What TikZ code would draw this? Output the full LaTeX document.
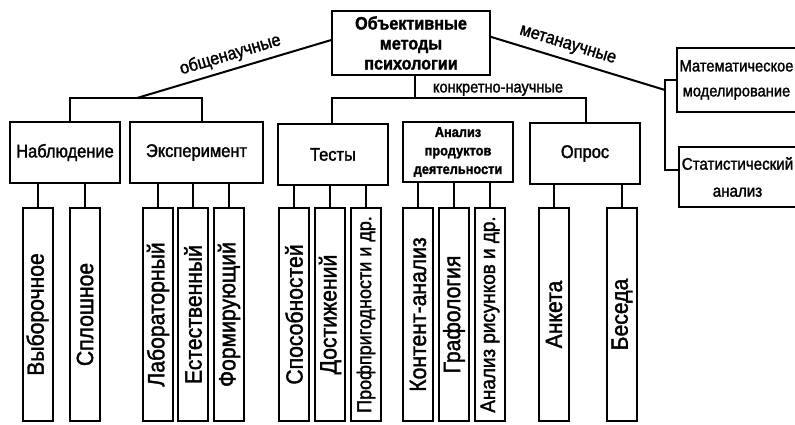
\documentclass[tikz,border=0pt]{standalone}
\usepackage{fontspec}
\setmainfont[FakeStretch=0.9,FakeBold=1.6]{Liberation Sans}
\usetikzlibrary{calc}
\begin{document}
\begin{tikzpicture}[x=1pt,y=-1pt,
  box/.style={draw, line width=2pt, inner sep=0pt, outer sep=0pt, align=center},
  topbox/.style={box, minimum width=158pt, minimum height=64pt, font=\bfseries\fontsize{18}{20}\selectfont},
  midbox/.style={box, minimum width=110pt, minimum height=61pt, font=\fontsize{18.3}{20}\selectfont},
  anbox/.style={box, minimum width=110pt, minimum height=60pt, font=\bfseries\fontsize{14.2}{18.5}\selectfont},
  sidebox/.style={box, minimum width=119pt, minimum height=64pt, font=\fontsize{16.3}{25}\selectfont},
  leaf/.style={box, minimum width=30pt, minimum height=213pt, font=\fontsize{23.5}{24}\selectfont},
  lbl/.style={inner sep=0pt, font=\fontsize{18}{18}\selectfont},
  conn/.style={line width=2pt}]
\fill[white] (0,0) rectangle (795,425);
\useasboundingbox (0,0) rectangle (795,425);

% top
\node[topbox] (top) at (411,43) {Объективные\\методы\\психологии};

% middle level
\node[midbox] (nab) at (65,152.5) {Наблюдение};
\node[midbox, minimum width=133pt] (exp) at (196.5,152.5) {Эксперимент};
\node[midbox] (tst) at (333,154.5) {Тесты};
\node[anbox] (anp) at (458,152) {Анализ\\продуктов\\деятельности};
\node[midbox] (opr) at (585,153.5) {Опрос};
\node[sidebox] (mat) at (736.5,80) {Математическое\\моделирование};
\node[sidebox, minimum width=117pt, minimum height=60pt, font=\fontsize{16.8}{27}\selectfont] (sta) at (737.5,177) {Статистический\\анализ};

% leaves
\node[leaf] (l1) at (37.5,314.5) {\rotatebox{90}{Выборочное}};
\node[leaf] (l2) at (85,314.5) {\rotatebox{90}{Сплошное}};
\node[leaf] (l3) at (158,314.5) {\rotatebox{90}{Лабораторный}};
\node[leaf] (l4) at (193,314.5) {\rotatebox{90}{Естественный}};
\node[leaf] (l5) at (229,314.5) {\rotatebox{90}{Формирующий}};
\node[leaf] (l6) at (294,314.5) {\rotatebox{90}{Способностей}};
\node[leaf] (l7) at (330,314.5) {\rotatebox{90}{Достижений}};
\node[leaf, font=\fontsize{20}{20}\selectfont] (l8) at (366,314.5) {\rotatebox{90}{Профпригодности и др.}};
\node[leaf] (l9) at (418,314.5) {\rotatebox{90}{Контент-анализ}};
\node[leaf] (l10) at (454,314.5) {\rotatebox{90}{Графология}};
\node[leaf, font=\fontsize{21}{20}\selectfont] (l11) at (490,314.5) {\rotatebox{90}{Анализ рисунков и др.}};
\node[leaf] (l12) at (554,314.5) {\rotatebox{90}{Анкета}};
\node[leaf] (l13) at (622,314.5) {\rotatebox{90}{Беседа}};

% leaf connectors
\foreach \l/\p in {l1/nab,l2/nab,l3/exp,l4/exp,l5/exp,l6/tst,l7/tst,l8/tst,l9/anp,l10/anp,l11/anp,l12/opr,l13/opr}
  \draw[conn] (\l.north) -- (\l.north |- \p.south);

% general-scientific bracket
\coordinate (ga) at (70,98);
\coordinate (gb) at (202,98);
\coordinate (gm) at (137,98);
\coordinate (tl) at ($(top.north west)!0.45!(top.south west)$);
\draw[conn] (ga |- nab.north) -- (ga) -- (gb) -- (gb |- exp.north);
\draw[conn] (gm) -- (tl) node[lbl, midway, sloped, above=5pt] {общенаучные};

% concrete-scientific bracket
\coordinate (ka) at (332,98);
\coordinate (kb) at (586,98);
\coordinate (kt) at (415,98);
\draw[conn] (ka |- tst.north) -- (ka) -- (kb) -- (kb |- opr.north);
\draw[conn] (kt |- top.south) -- (kt);
\node[lbl, font=\fontsize{16.2}{16}\selectfont, anchor=south] (klbl) at (498,96) {конкретно-научные};

% meta-scientific bracket
\coordinate (tr) at ($(top.north east)!0.4!(top.south east)$);
\coordinate (mm) at (665,90);
\coordinate (mb) at (665,170);
\draw[conn] (mat.west) -- (mat.west -| mm) -- (mb) -- (sta.west |- mb);
\draw[conn] (tr) -- (mm) node[lbl, pos=0.42, sloped, above=6pt] {метанаучные};
\end{tikzpicture}
\end{document}
